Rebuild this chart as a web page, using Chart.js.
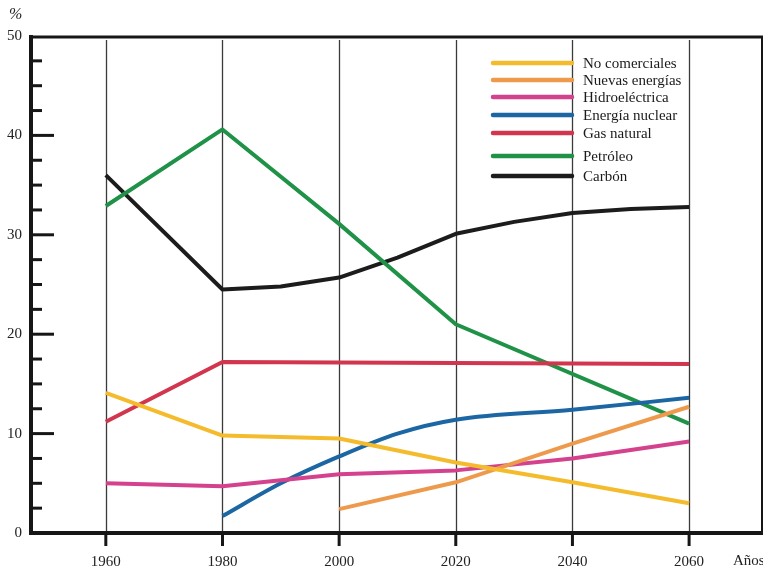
<!DOCTYPE html>
<html>
<head>
<meta charset="utf-8">
<script src="https://cdn.jsdelivr.net/npm/chart.js@4.4.1/dist/chart.umd.min.js"></script>
<style>
html,body{margin:0;padding:0;background:#fff;}
canvas{display:block;}
</style>
</head>
<body>
<canvas id="c" width="763" height="567"></canvas>
<script>
// ---- data ----
const xTicks = [1960, 1980, 2000, 2020, 2040, 2060];
const yTicks = [0, 10, 20, 30, 40, 50];

const noComYears   = [1960, 1980, 2000, 2020, 2040, 2060];
const noComValues  = [14.1, 9.8, 9.5, 7.1, 5.1, 3.0];

const nuevasYears  = [2000, 2020, 2040, 2060];
const nuevasValues = [2.4, 5.1, 9.0, 12.7];

const hidroYears   = [1960, 1980, 2000, 2020, 2040, 2060];
const hidroValues  = [5.0, 4.7, 5.9, 6.3, 7.5, 9.2];

const nuclearYears  = [1980, 1990, 2000, 2010, 2020, 2040, 2060];
const nuclearValues = [1.7, 5.0, 7.7, 10.0, 11.4, 12.4, 13.6];

const gasYears   = [1960, 1980, 2060];
const gasValues  = [11.2, 17.2, 17.0];

const petroleoYears  = [1960, 1980, 2000, 2020, 2060];
const petroleoValues = [32.9, 40.6, 31.1, 21.0, 11.0];

const carbonYears  = [1960, 1980, 1990, 2000, 2010, 2020, 2030, 2040, 2050, 2060];
const carbonValues = [36.0, 24.5, 24.8, 25.7, 27.7, 30.1, 31.3, 32.2, 32.6, 32.8];

const seriesLabels = ["No comerciales", "Nuevas energías", "Hidroeléctrica", "Energía nuclear", "Gas natural", "Petróleo", "Carbón"];
const seriesColors = ["#f4bb2c", "#ee9a4c", "#d4428e", "#1b66a3", "#d2364e", "#1f9248", "#1c1c1c"];
const smoothSeries = ["Energía nuclear"];

function pts(xs, ys){ return xs.map((x,i)=>({x:x, y:ys[i]})); }

const seriesData = [
  pts(noComYears, noComValues),
  pts(nuevasYears, nuevasValues),
  pts(hidroYears, hidroValues),
  pts(nuclearYears, nuclearValues),
  pts(gasYears, gasValues),
  pts(petroleoYears, petroleoValues),
  pts(carbonYears, carbonValues)
];

const SERIF = "'Liberation Serif', 'DejaVu Serif', serif";

const framePlugin = {
  id: 'frame',
  beforeDatasetsDraw(chart){
    const c = chart.ctx, a = chart.chartArea, xs = chart.scales.x;
    c.save();
    c.strokeStyle = '#3a3a3a';
    c.lineWidth = 1.3;
    xTicks.forEach(v=>{
      const px = Math.round(xs.getPixelForValue(v)) + 0.5;
      c.beginPath(); c.moveTo(px, a.top + 4); c.lineTo(px, a.bottom); c.stroke();
    });
    c.restore();
  },
  afterDatasetsDraw(chart){
    const c = chart.ctx, a = chart.chartArea, xs = chart.scales.x, ys = chart.scales.y;
    c.save();
    c.strokeStyle = '#161616';
    c.lineCap = 'butt';
    // x tick marks below axis
    c.lineWidth = 3;
    xTicks.forEach(v=>{
      const px = xs.getPixelForValue(v);
      c.beginPath(); c.moveTo(px, a.bottom); c.lineTo(px, a.bottom + 13); c.stroke();
    });
    // y tick marks inside
    for (let v = 2.5; v < 50; v += 2.5){
      const py = ys.getPixelForValue(v);
      const len = (v % 10 === 0) ? 24 : 12;
      c.beginPath(); c.moveTo(a.left, py); c.lineTo(a.left + len, py); c.stroke();
    }
    // frame
    c.lineWidth = 3;
    c.beginPath(); c.moveTo(a.left, a.top + 1); c.lineTo(chart.width, a.top + 1); c.stroke();
    c.lineWidth = 2;
    c.beginPath(); c.moveTo(a.right, a.top); c.lineTo(a.right, a.bottom); c.stroke();
    c.lineWidth = 4;
    c.beginPath(); c.moveTo(a.left + 1, a.top - 1); c.lineTo(a.left + 1, a.bottom + 2); c.stroke();
    c.beginPath(); c.moveTo(a.left, a.bottom); c.lineTo(chart.width, a.bottom); c.stroke();
    // axis titles
    c.fillStyle = '#222';
    c.font = "italic 16px " + SERIF;
    c.textBaseline = 'middle';
    c.textAlign = 'left';
    c.fillText('%', 9, 15);
    c.font = "15px " + SERIF;
    c.fillText('Años', 733, 561);
    // legend
    const lx0 = 493, lx1 = 572, tx = 583;
    const rowsY = [63, 80, 97, 115, 133, 156, 176];
    c.lineWidth = 4.5;
    c.lineCap = 'round';
    seriesLabels.forEach((lab, i)=>{
      c.strokeStyle = seriesColors[i];
      c.beginPath(); c.moveTo(lx0, rowsY[i]); c.lineTo(lx1, rowsY[i]); c.stroke();
      c.fillStyle = '#1a1a1a';
      c.font = "15px " + SERIF;
      c.fillText(lab, tx, rowsY[i] + 1);
    });
    c.restore();
  }
};

new Chart(document.getElementById('c'), {
  type: 'line',
  data: {
    datasets: seriesLabels.map((lab, i)=>({
      label: lab,
      data: seriesData[i],
      borderColor: seriesColors[i],
      backgroundColor: seriesColors[i],
      borderWidth: 4,
      pointRadius: 0,
      tension: smoothSeries.includes(lab) ? 0.4 : 0,
      cubicInterpolationMode: smoothSeries.includes(lab) ? 'monotone' : 'default',
      fill: false,
      borderCapStyle: 'butt',
      borderJoinStyle: 'round'
    }))
  },
  options: {
    responsive: false,
    animation: false,
    layout: { padding: { top: 36, right: 1, left: 0, bottom: 0 } },
    plugins: { legend: { display: false }, tooltip: { enabled: false } },
    scales: {
      x: {
        type: 'linear', min: 1947, max: 2072.5,
        afterBuildTicks: s => { s.ticks = xTicks.map(v=>({value:v})); },
        afterFit: s => { s.height = 34; },
        grid: { display: false, drawTicks: false },
        border: { display: false },
        ticks: { autoSkip: false, maxRotation: 0, padding: 20, color: '#222',
                 font: { family: SERIF, size: 15 }, callback: v => String(v) }
      },
      y: {
        min: 0, max: 50,
        afterBuildTicks: s => { s.ticks = yTicks.map(v=>({value:v})); },
        afterFit: s => { s.width = 30; },
        grid: { display: false, drawTicks: false },
        border: { display: false },
        ticks: { padding: 8, color: '#222', font: { family: SERIF, size: 15 }, callback: v => String(v) }
      }
    }
  },
  plugins: [framePlugin]
});
</script>
</body>
</html>
